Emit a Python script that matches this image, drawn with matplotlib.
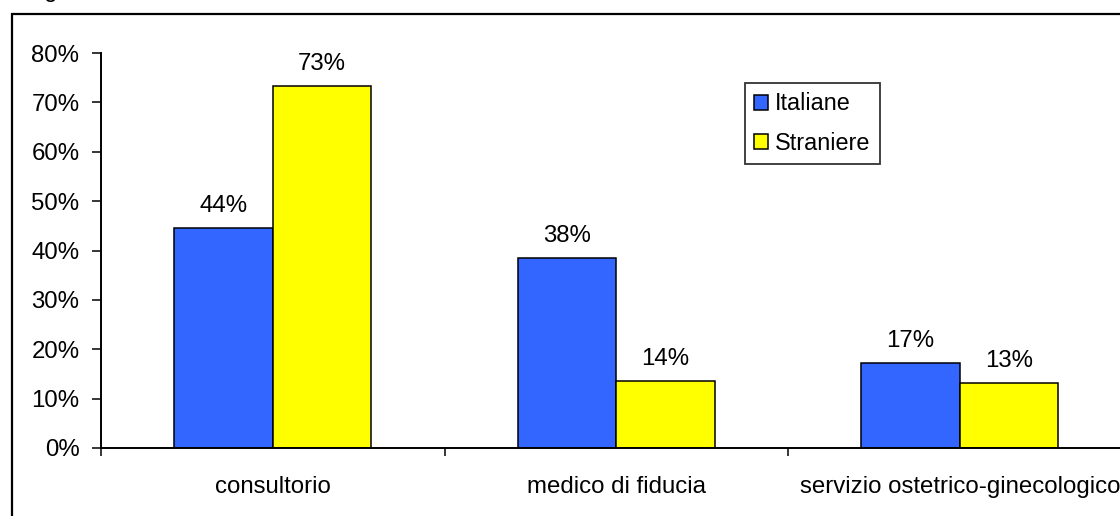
import matplotlib
matplotlib.use("Agg")
import matplotlib.pyplot as plt
import numpy as np
from matplotlib.patches import Rectangle, Patch
from matplotlib.ticker import FixedLocator, PercentFormatter

categories = ["consultorio", "medico di fiducia", "servizio ostetrico-ginecologico"]
italiane = [0.445, 0.385, 0.172]
straniere = [0.733, 0.136, 0.132]
labels_it = ["44%", "38%", "17%"]
labels_st = ["73%", "14%", "13%"]
series_names = ["Italiane", "Straniere"]
yticks = [0, 0.1, 0.2, 0.3, 0.4, 0.5, 0.6, 0.7, 0.8]

plt.rcParams['font.family'] = ['Liberation Sans', 'DejaVu Sans']
FS = 17.3

W, H = 1120, 516
fig = plt.figure(figsize=(W / 100, H / 100), dpi=100)

# outer frame (extends past right and bottom edges)
fig.patches.append(Rectangle((11.5 / W, -0.1), 1.2, 1 - 13.5 / H + 0.1,
                             transform=fig.transFigure, fill=False,
                             edgecolor='black', lw=1.6, zorder=0))
# cut-off title fragment at the very top
fig.text(24 / W, 1 + 3 / H, "Fig", fontsize=FS, va='baseline', ha='left')

ax_left, ax_right = 101, 1131.5
ax_bottom, ax_top = 448, 53
ax = fig.add_axes([ax_left / W, 1 - ax_bottom / H,
                   (ax_right - ax_left) / W, (ax_bottom - ax_top) / H])

x = np.arange(len(categories))
bw = 0.287
b1 = ax.bar(x - bw / 2, italiane, bw, color='#3366FF', edgecolor='black', lw=1.1, zorder=2)
b2 = ax.bar(x + bw / 2, straniere, bw, color='#FFFF00', edgecolor='black', lw=1.1, zorder=2)

for bars, labs in ((b1, labels_it), (b2, labels_st)):
    for r, lab in zip(bars, labs):
        ax.annotate(lab, (r.get_x() + r.get_width() / 2, r.get_height()),
                    xytext=(0, 11.5), textcoords='offset points',
                    ha='center', va='baseline', fontsize=FS)

ax.set_xlim(-0.5, len(categories) - 0.5)
ax.set_ylim(0, 0.8)
ax.set_yticks(yticks)
ax.yaxis.set_major_formatter(PercentFormatter(1.0, decimals=0))
ax.set_xticks(x)
ax.set_xticklabels(categories)
ax.xaxis.set_minor_locator(FixedLocator(np.arange(len(categories) + 1) - 0.5))
ax.tick_params(axis='x', which='major', length=0, pad=20, labelsize=FS)
ax.tick_params(axis='x', which='minor', length=6, width=1.1, direction='out')
ax.tick_params(axis='y', length=6.5, width=1.1, direction='out', pad=9, labelsize=FS)

for s in ('top', 'right'):
    ax.spines[s].set_visible(False)
for s in ('left', 'bottom'):
    ax.spines[s].set_linewidth(1.4)

handles = [Patch(facecolor='#3366FF', edgecolor='black', lw=1.1),
           Patch(facecolor='#FFFF00', edgecolor='black', lw=1.1)]
leg = fig.legend(handles, series_names, loc='upper left',
                 bbox_to_anchor=(745 / W, 1 - 83 / H), bbox_transform=fig.transFigure,
                 borderaxespad=0, fontsize=16.8, frameon=True, fancybox=False,
                 edgecolor='black', handlelength=0.6, handleheight=0.6,
                 handletextpad=0.3, borderpad=0.4, labelspacing=0.7)
leg.get_frame().set_linewidth(1.3)

fig.savefig("out.png", dpi=100)
